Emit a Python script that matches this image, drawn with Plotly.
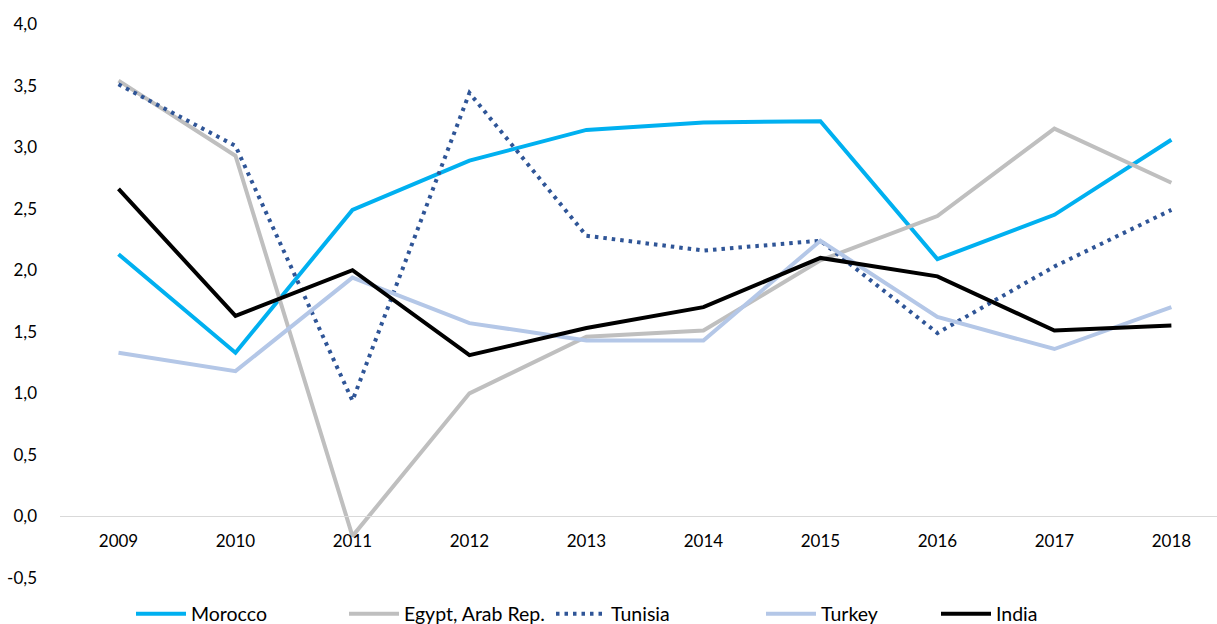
import plotly.graph_objects as go

years = ["2009", "2010", "2011", "2012", "2013", "2014", "2015", "2016", "2017", "2018"]

morocco = [2.13, 1.33, 2.49, 2.89, 3.14, 3.20, 3.21, 2.09, 2.45, 3.06]
egypt = [3.54, 2.93, -0.16, 1.00, 1.46, 1.51, 2.08, 2.44, 3.15, 2.71]
tunisia = [3.51, 3.01, 0.94, 3.44, 2.28, 2.16, 2.24, 1.49, 2.03, 2.49]
turkey = [1.33, 1.18, 1.94, 1.57, 1.43, 1.43, 2.24, 1.62, 1.36, 1.70]
india = [2.66, 1.63, 2.00, 1.31, 1.53, 1.70, 2.10, 1.95, 1.51, 1.55]

y_ticks = [-0.5, 0.0, 0.5, 1.0, 1.5, 2.0, 2.5, 3.0, 3.5, 4.0]
y_tick_labels = ["-0,5", "0,0", "0,5", "1,0", "1,5", "2,0", "2,5", "3,0", "3,5", "4,0"]

FONT = "Lato"
W, H = 1217, 624
M_L, M_R, M_T, M_B = 60, 0, 24, 46

# name, values, colour, dash, left pixel of the legend line
series = [
    ("Morocco", morocco, "#00B0F0", "solid", 139),
    ("Egypt, Arab Rep.", egypt, "#BFBFBF", "solid", 352),
    ("Tunisia", tunisia, "#2F5597", "3.5px,5px", 559),
    ("Turkey", turkey, "#B4C7E7", "solid", 769),
    ("India", india, "#000000", "solid", 944),
]

fig = go.Figure()
layout_legends = {}
for i, (name, vals, color, dash, lx) in enumerate(series):
    key = "legend" if i == 0 else f"legend{i + 1}"
    fig.add_trace(
        go.Scatter(
            x=years, y=vals, name=name, mode="lines",
            line=dict(color=color, width=4, dash=dash),
            legend=key, showlegend=True,
        )
    )
    layout_legends[key] = dict(
        x=(lx - M_L - 8) / (W - M_L - M_R), xanchor="left",
        y=-(614 - (H - M_B)) / (H - M_T - M_B), yanchor="middle",
        orientation="h", bgcolor="rgba(0,0,0,0)",
        font=dict(family=FONT, size=19.5, color="black"),
        itemwidth=50,
    )

fig.update_layout(
    width=W, height=H, autosize=False,
    margin=dict(l=M_L, r=M_R, t=M_T, b=M_B, autoexpand=False),
    plot_bgcolor="white", paper_bgcolor="white",
    showlegend=True,
    font=dict(family=FONT, size=17, color="black"),
    **layout_legends,
)

fig.update_xaxes(
    type="category", range=[-0.5, 9.39],
    anchor="free", position=0.5 / 4.5, automargin=False,
    showgrid=False, zeroline=False,
    showline=True, linecolor="#D9D9D9", linewidth=1.3,
    ticks="", ticklabelstandoff=9,
    tickfont=dict(family=FONT, size=17, color="black"),
)
fig.update_yaxes(
    range=[-0.5, 4.0], tickvals=y_ticks, ticktext=y_tick_labels,
    automargin=False,
    showgrid=False, zeroline=False, showline=False,
    ticks="", ticklabelstandoff=22,
    tickfont=dict(family=FONT, size=17, color="black"),
)

fig.write_html(
    "out.html",
    config={"displayModeBar": False},
    post_script="document.body.style.margin='0px';",
)
